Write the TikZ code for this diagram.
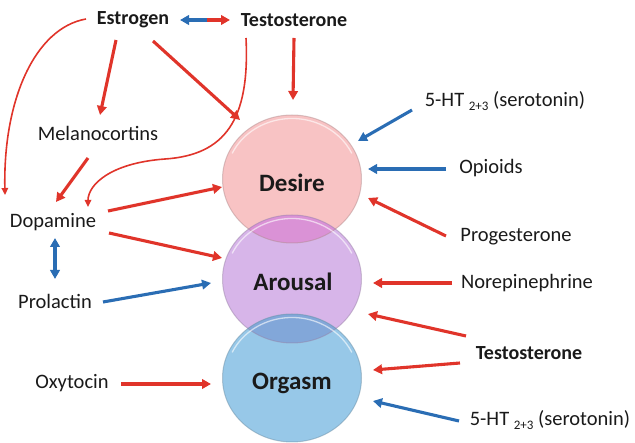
\documentclass[tikz,border=0pt]{standalone}
\usepackage{fontspec}
\setmainfont{Carlito}
\usetikzlibrary{arrows.meta,calc,shapes.geometric}
\definecolor{ExciteRed}{HTML}{E0342A}
\definecolor{InhibBlue}{HTML}{2A6DB4}
\definecolor{DesireFill}{HTML}{F8C3C4}
\definecolor{ArousalFill}{HTML}{D7B5E9}
\definecolor{OrgasmFill}{HTML}{97C8E8}
\definecolor{DesArFill}{HTML}{DA92D6}
\definecolor{ArOrgFill}{HTML}{82A7D9}
\definecolor{InkDark}{HTML}{1A1A1A}
\tikzset{
  lbl/.style={font=\fontsize{20.5}{24}\selectfont, text=InkDark, inner sep=1pt},
  lblbold/.style={font=\fontsize{20}{24}\selectfont\bfseries, text=InkDark, inner sep=1pt},
  phase/.style={inner sep=0pt, font=\fontsize{25}{30}\selectfont\bfseries, text=InkDark},
  blob/.style={x radius=69.5, y radius=64},
  edge/.style={draw=#1!70!black, draw opacity=0.45, line width=1pt},
  rim/.style={draw=white, draw opacity=0.6, line width=1.3pt},
  excite/.style={draw=ExciteRed, line width=3.1pt, -{Triangle[length=9pt,width=9.5pt]}},
  inhib/.style={draw=InhibBlue, line width=3.1pt, -{Triangle[length=9pt,width=9.5pt]}},
  excitecurve/.style={draw=ExciteRed, line width=1.6pt, -{Triangle[length=7pt,width=6.5pt]}},
}
\newcommand{\htlabel}{5-HT \raisebox{-3.5pt}{\fontsize{13}{13}\selectfont 2+3} (serotonin)}

\begin{document}
\begin{tikzpicture}[x=1pt, y=-1pt]
\useasboundingbox (0,0) rectangle (635,443);

% phases
\coordinate (cDes) at (292,179);
\coordinate (cAr) at (292,279);
\coordinate (cOrg) at (292,378);
\fill[DesireFill] (cDes) ellipse[blob];
\fill[ArousalFill] (cAr) ellipse[blob];
\fill[OrgasmFill] (cOrg) ellipse[blob];
\begin{scope}
  \clip (cDes) ellipse[blob];
  \fill[DesArFill] (cAr) ellipse[blob];
\end{scope}
\begin{scope}
  \clip (cAr) ellipse[blob];
  \fill[ArOrgFill] (cOrg) ellipse[blob];
\end{scope}
\draw[edge=DesireFill] (cDes) ellipse[blob];
\draw[edge=ArousalFill] (cAr) ellipse[blob];
\draw[edge=OrgasmFill] (cOrg) ellipse[blob];
\foreach \c in {cDes,cAr,cOrg}
  \draw[rim] ($(\c)+(205:66 and 60.5)$) arc[start angle=205, end angle=335, x radius=66, y radius=60.5];
\node[phase] (desire) at (292,183) {Desire};
\node[phase] (arousal) at (293,282) {Arousal};
\node[phase] (orgasm) at (292,383) {Orgasm};

% left side
\node[lblbold] (estr) at (133,20) {Estrogen};
\node[lblbold] (testoA) at (294,20) {Testosterone};
\node[lbl] (melano) at (98,133) {Melanocortins};
\node[lbl] (dopa) at (53,222) {Dopamine};
\node[lbl] (prl) at (55,301) {Prolactin};
\node[lbl] (oxy) at (72,383) {Oxytocin};

% right side
\node[lbl] (htA) at (505,101) {\htlabel};
\node[lbl] (opi) at (491,168) {Opioids};
\node[lbl] (proges) at (516,237) {Progesterone};
\node[lbl] (norepi) at (527,283) {Norepinephrine};
\node[lblbold] (testoB) at (529,353) {Testosterone};
\node[lbl] (htB) at (550,420) {\htlabel};

% arrow ends
\coordinate (etMid) at (207,20);
\coordinate (etL) at (180,20);
\coordinate (etR) at (230,20);
\coordinate (estrCurve) at (86,19);
\coordinate (dopaLeft) at (5,195);
\coordinate (estrMelA) at (116,40);
\coordinate (melTop) at (100,115);
\coordinate (estrDesA) at (153,41);
\coordinate (desNW) at (240,120);
\coordinate (testoDown) at (294,38);
\coordinate (desTop) at (293,100);
\coordinate (testoCurve) at (246,38);
\coordinate (testoBend) at (165,159);
\coordinate (dopaRight) at (88,207);
\coordinate (melBot) at (88,158);
\coordinate (dopaTop) at (56,202);
\coordinate (dopaDesA) at (108,211);
\coordinate (desW) at (222,187);
\coordinate (dopaArA) at (109,233);
\coordinate (arNW) at (222,258);
\coordinate (dopaBot) at (55,238);
\coordinate (prlTop) at (55,279);
\coordinate (prlA) at (103,302);
\coordinate (arW) at (211,283);
\coordinate (oxyA) at (121,384);
\coordinate (orgW) at (211,384);
\coordinate (htAA) at (412,110);
\coordinate (desNE) at (358,141);
\coordinate (opiA) at (446,169);
\coordinate (desE) at (368,169);
\coordinate (progesA) at (446,236);
\coordinate (desSE) at (368,198);
\coordinate (norepiA) at (452,283);
\coordinate (arE) at (373,283);
\coordinate (testoBA) at (466,336);
\coordinate (arSE) at (368,314);
\coordinate (testoBB) at (460,363);
\coordinate (orgE) at (373,370);
\coordinate (htBA) at (459,421);
\coordinate (orgSE) at (373,401);

% estrogen / testosterone
\draw[inhib] (etMid) -- (etL);
\draw[excite] (etMid) -- (etR);
\draw[excitecurve] (estrCurve) .. controls (35,28) and (3,100) .. (dopaLeft);
\draw[excite] (estrMelA) -- (melTop);
\draw[excite] (estrDesA) -- (desNW);
\draw[excite] (testoDown) -- (desTop);
\draw[excitecurve] (testoCurve) .. controls (250,120) and (225,155) .. (testoBend)
  .. controls (110,163) and (88,185) .. (dopaRight);
\draw[excite] (melBot) -- (dopaTop);
\draw[excite] (dopaDesA) -- (desW);
\draw[excite] (dopaArA) -- (arNW);
\draw[inhib, {Triangle[length=9pt,width=9.5pt]}-{Triangle[length=9pt,width=9.5pt]}] (dopaBot) -- (prlTop);
\draw[inhib] (prlA) -- (arW);
\draw[excite] (oxyA) -- (orgW);

% right arrows
\draw[inhib] (htAA) -- (desNE);
\draw[inhib] (opiA) -- (desE);
\draw[excite] (progesA) -- (desSE);
\draw[excite] (norepiA) -- (arE);
\draw[excite] (testoBA) -- (arSE);
\draw[excite] (testoBB) -- (orgE);
\draw[inhib] (htBA) -- (orgSE);
\end{tikzpicture}
\end{document}
